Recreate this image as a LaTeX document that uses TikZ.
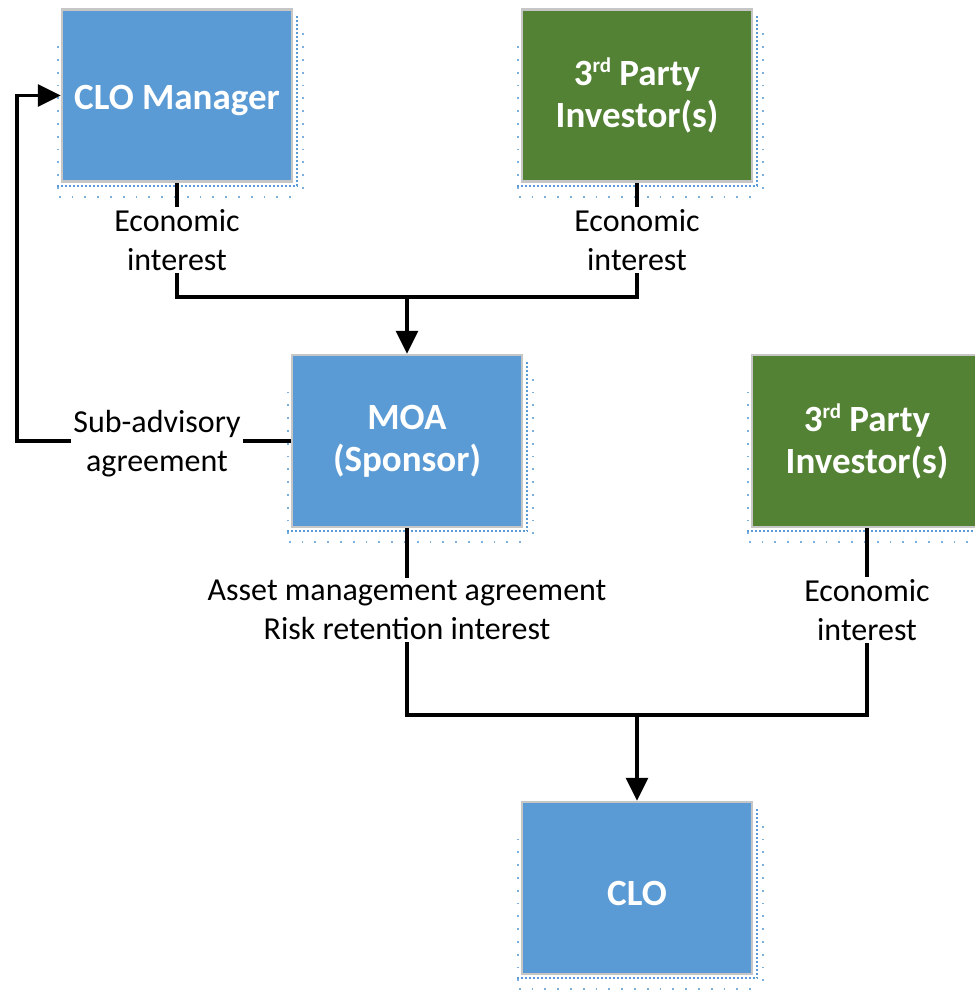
\documentclass[tikz,border=0pt]{standalone}
\usepackage{fontspec}
\setmainfont{Carlito}
\usetikzlibrary{positioning,arrows.meta,calc}
\definecolor{boxblue}{HTML}{5B9BD5}
\definecolor{boxgreen}{HTML}{548235}
\newcommand{\ord}[1]{\raisebox{13pt}{\fontsize{21}{21}\selectfont #1}}

\begin{document}
\begin{tikzpicture}[
    x=1pt, y=-1pt,
    box/.style={draw=gray!45, line width=2.5pt, minimum width=230pt, minimum height=172pt, align=center, text=white, font=\fontsize{37}{42}\selectfont\bfseries, inner sep=0pt, execute at begin node={\rule{0pt}{35pt}}},
    bluebox/.style={box, fill=boxblue},
    greenbox/.style={box, fill=boxgreen},
    lbl/.style={align=center, font=\fontsize{32}{39}\selectfont, inner sep=2pt},
    conn/.style={line width=3.3pt},
    arr/.style={conn, -{Triangle[length=23pt,width=22pt]}},
    dots/.style={boxblue, line width=1.8pt, dash pattern=on 1.8pt off 2.2pt},
    sparsedots/.style={boxblue!80, line width=1.8pt, dash pattern=on 1.8pt off 11pt},
]
\useasboundingbox (0,0) rectangle (974,990);

\node[bluebox] (mgr) at (177,95.5) {CLO Manager};
\node[greenbox] (inv1) at (637,95.5) {3\ord{rd} Party\\Investor(s)};
\node[bluebox] (moa) at (407,441) {MOA\\(Sponsor)};
\node[greenbox] (inv2) at (867,441) {3\ord{rd} Party\\Investor(s)};
\node[bluebox] (clo) at (637,888) {CLO};

% dotted shadows
\foreach \b in {mgr,inv1,moa,inv2,clo}{
  \draw[dots] ([xshift=-4pt,yshift=-3pt]\b.south west) -- ([xshift=4pt,yshift=-3pt]\b.south east) -- ([xshift=4pt,yshift=-8pt]\b.north east);
  \draw[sparsedots] ([xshift=-2pt,yshift=-14pt]\b.south west) -- ([xshift=6pt,yshift=-14pt]\b.south east);
  \draw[sparsedots] ([xshift=10pt,yshift=-6pt]\b.south east) -- ([xshift=10pt,yshift=-20pt]\b.north east);
  \draw[sparsedots] ([xshift=-3pt,yshift=-6pt]\b.south west) -- ([xshift=-3pt,yshift=-30pt]\b.north west);
}

\node[lbl] (ecmgr) at (177,240) {Economic\\interest};
\node[lbl] (ecinv1) at (637,240) {Economic\\interest};
\node[lbl] (sub) at (157,444) {Sub-advisory\\agreement};
\node[lbl] (ama) at (407,610) {Asset management agreement\\Risk retention interest};
\node[lbl] (ecinv2) at (867,610) {Economic\\interest};

\coordinate (join1) at (407,297);
\coordinate (join2) at (637,715);
\coordinate (bend) at (17,441);

\draw[conn] (mgr) -- (ecmgr);
\draw[conn] (inv1) -- (ecinv1);
\draw[conn] (ecmgr.south) |- (join1) -| (ecinv1.south);
\draw[arr] (join1) -- (moa.north);

\draw[conn] (moa.west) -- (sub.east |- moa.west);
\draw[arr] (sub.west |- moa.west) -- (bend) |- (mgr.west);

\draw[conn] (moa) -- (ama);
\draw[conn] (inv2) -- (ecinv2);
\draw[conn] (ama.south) |- (join2) -| (ecinv2.south);
\draw[arr] (join2) -- (clo.north);
\end{tikzpicture}
\end{document}
